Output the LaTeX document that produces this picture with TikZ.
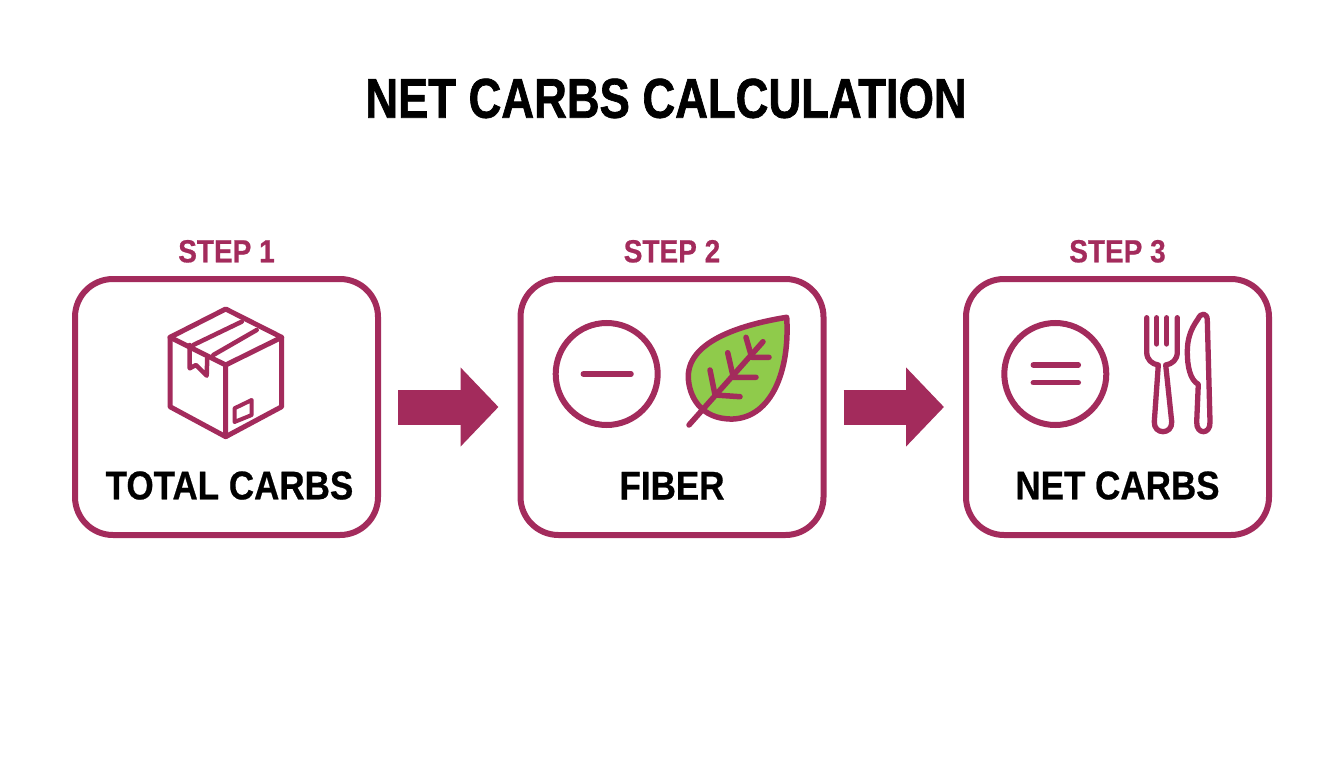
\documentclass[tikz,border=0pt]{standalone}
\usepackage{fontspec}
\setmainfont[FakeStretch=0.875,FakeBold=0.6]{Liberation Sans}
\usepackage{tikz}
\usetikzlibrary{arrows.meta}
\definecolor{berry}{HTML}{A32B5C}
\definecolor{leafgreen}{HTML}{8FCB4B}
\tikzset{
	boxNode/.style={draw=berry, line width=6pt, rounded corners=38pt, minimum width=303pt, minimum height=256pt, fill=white},
	stepText/.style={inner sep=0pt, text=berry, text height=23pt, font=\bfseries\fontsize{32}{34}\selectfont},
	nameText/.style={inner sep=0pt, text=black, text height=29pt, font=\bfseries\fontsize{40}{44}\selectfont},
	icon/.style={draw=berry, line width=5pt, line cap=round, line join=round},
	signCircle/.style={draw=berry, line width=6pt, circle, minimum size=102pt, inner sep=0pt},
	flow/.style={draw=berry, line width=35pt, -{Triangle[length=38pt,width=77pt]}, shorten <=17pt, shorten >=19pt}
}
\newcommand{\stepNode}[3]{\node[boxNode] (box#1) at (226.5,407) {};
	\node[stepText, above of=box#1, node distance=156pt] (step#1) {#2};
	\node[nameText, below of=box#1, node distance=78pt, xshift=3pt] (name#1) {#3};}
\newcommand{\stepNodeP}[4]{\node[boxNode, right of=box#1, node distance=445.5pt] (box#2) {};
	\node[stepText, above of=box#2, node distance=156pt] (step#2) {#3};
	\node[nameText, below of=box#2, node distance=78pt] (name#2) {#4};}
\begin{document}
\begin{tikzpicture}[x=1pt, y=-1pt]
	\useasboundingbox (0,0) rectangle (1344,768);
	\node[inner sep=0pt, text height=40pt, font=\bfseries\fontsize{56}{60}\selectfont\addfontfeatures{FakeStretch=0.81,FakeBold=1.2}] (title) at (666,98) {NET CARBS CALCULATION};

	\stepNode{1}{STEP 1}{TOTAL CARBS}
	\stepNodeP{1}{2}{STEP 2}{FIBER}
	\stepNodeP{2}{3}{STEP 3}{NET CARBS}

	\draw[flow] (box1) -- (box2);
	\draw[flow] (box2) -- (box3);

	% package
	\draw[icon] (225.7,309) -- (281.7,337.3) -- (281.7,406.7) -- (225.7,436.7) -- (170,406.7) -- (170,337.3) -- cycle;
	\draw[icon] (170,337.3) -- (225.7,365) -- (281.7,337.3) (225.7,365) -- (225.7,436.7);
	\draw[icon, line width=4.5pt] (193.3,345) -- (241.7,321.7) (213.3,355) -- (256.7,330);
	\draw[icon, line width=4.5pt] (189.7,345) -- (189.7,368.3) -- (196,365) -- (206.7,375.7) -- (207.3,356);
	\draw[icon, line width=4pt] (234.5,408.3) -- (251.7,400) -- (251.7,415) -- (234.5,422) -- cycle;

	% minus and leaf
	\node[signCircle] (minus) at (606.7,374) {};
	\draw[icon, line width=5.5pt] (583.3,374) -- (631,374);
	\draw[icon, line width=5.5pt, fill=leafgreen] (786.7,317.3) .. controls (745,324) and (688,340) .. (688.3,376.7) .. controls (688.5,395) and (700,420) .. (733.3,419) .. controls (772,417) and (790,370) .. (786.7,317.3) -- cycle;
	\draw[icon, line width=5.5pt] (689,425) -- (763,341.7);
	\draw[icon, line width=5.5pt] (710,370) -- (715,395) -- (740,396.7) (727.7,352.7) -- (733.3,377.3) -- (756,377.3) (746,337.3) -- (751.7,357.3) -- (769,357.3);

	% equals, fork and knife
	\node[signCircle] (equals) at (1055.3,374) {};
	\draw[icon, line width=5.5pt] (1033.3,365) -- (1078.3,365) (1033.3,382.7) -- (1078.3,382.7);
	\draw[icon, line width=5.3pt] (1146.7,317.7) -- (1146.7,352) .. controls (1146.7,360) and (1152,364) .. (1158.3,365) -- (1154.3,421.7) .. controls (1153.5,435) and (1172.5,435) .. (1171.7,421.7) -- (1165.7,365) .. controls (1172,364) and (1177.3,360) .. (1177.3,352) -- (1177.3,317.7);
	\draw[icon, line width=5.3pt] (1156.7,317.7) -- (1156.7,344) (1166.7,317.7) -- (1166.7,344);
	\draw[icon, line width=5.3pt] (1207.3,320) .. controls (1207.3,313) and (1201,312) .. (1198,319) .. controls (1190,330) and (1187.3,340) .. (1187.3,352) .. controls (1187.3,366) and (1190,380) .. (1198.3,384.3) -- (1196.7,421.7) .. controls (1196,435) and (1210.8,435) .. (1210,421.7) -- cycle;
\end{tikzpicture}
\end{document}
